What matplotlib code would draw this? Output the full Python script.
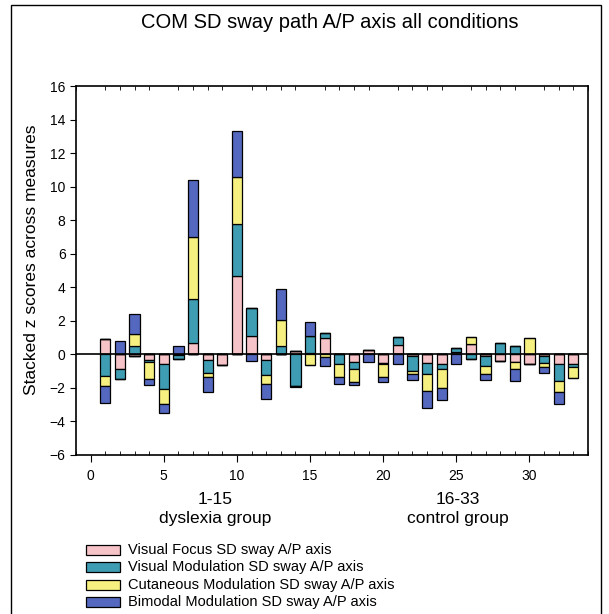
import numpy as np
import matplotlib.pyplot as plt
from matplotlib.patches import Rectangle
from matplotlib.ticker import MultipleLocator

plt.rcParams['font.family'] = ['Liberation Sans', 'DejaVu Sans']

subjects = list(range(1, 34))

# z scores per measure, one value per subject (1-15 dyslexia, 16-33 control)
visual_focus = [0.9, -0.86, -0.1, -0.35, -0.55, -0.05, 0.7, -0.35, -0.64, 4.7,
                1.09, -0.34, 0.0, 0.2, 0.1, 0.95, 0.0, -0.46, 0.25, -0.5,
                0.55, -0.1, -0.5, -0.6, 0.15, 0.6, -0.1, -0.4, -0.46, -0.55,
                -0.1, -0.56, -0.6]
visual_mod = [-1.29, -0.58, 0.48, -0.1, -1.5, -0.25, 2.62, -0.76, 0.0, 3.1,
              1.7, -0.9, 0.52, -1.9, 1.0, 0.3, -0.56, -0.4, 0.0, -0.1,
              0.5, -0.9, -0.7, -0.3, 0.2, -0.3, -0.6, 0.7, 0.48, 0.0,
              -0.4, -1.0, -0.15]
cutaneous_mod = [-0.6, 0.0, 0.72, -1.0, -0.9, 0.0, 3.65, -0.24, 0.0, 2.77,
                 0.0, -0.54, 1.53, 0.0, -0.65, -0.15, -0.8, -0.8, 0.0, -0.75,
                 0.0, -0.15, -1.0, -1.1, 0.0, 0.45, -0.45, 0.0, -0.4, 1.0,
                 -0.25, -0.7, -0.64]
bimodal_mod = [-1.0, 0.78, 1.19, -0.4, -0.56, 0.5, 3.43, -0.9, 0.0, 2.72,
               -0.4, -0.86, 1.85, -0.05, 0.8, -0.55, -0.4, -0.14, -0.45, -0.3,
               -0.6, -0.35, -1.0, -0.7, -0.6, 0.0, -0.4, 0.0, -0.7, 0.0,
               -0.35, -0.7, 0.0]

labels = ["Visual Focus SD sway A/P axis",
          "Visual Modulation SD sway A/P axis",
          "Cutaneous Modulation SD sway A/P axis",
          "Bimodal Modulation SD sway A/P axis"]
colors = ["#f6c4c8", "#3f9db3", "#f6f080", "#5468c0"]

fig = plt.figure(figsize=(6.09, 6.14), dpi=100)
ax = fig.add_axes([76/609, 1-455/614, (588-76)/609, (455-86)/614])

x = np.array(subjects)
pos_base = np.zeros(len(x))
neg_base = np.zeros(len(x))
for vals, c in zip([visual_focus, visual_mod, cutaneous_mod, bimodal_mod], colors):
    v = np.array(vals)
    p = np.where(v > 0, v, 0)
    n = np.where(v < 0, v, 0)
    ax.bar(x, p, 0.7, bottom=pos_base, color=c, edgecolor="black", linewidth=0.9)
    ax.bar(x, n, 0.7, bottom=neg_base, color=c, edgecolor="black", linewidth=0.9)
    pos_base += p
    neg_base += n

ax.axhline(0, color="black", lw=1.2)
ax.set_xlim(-1, 34)
ax.set_ylim(-6, 16)
ax.yaxis.set_major_locator(MultipleLocator(2))
ax.xaxis.set_minor_locator(MultipleLocator(1))
ax.set_xticks(range(0, 31, 5))
ax.tick_params(axis="x", which="major", direction="out", length=5, labelsize=10, pad=5)
ax.tick_params(axis="x", which="minor", direction="in", length=3, top=True)
ax.tick_params(axis="y", direction="out", length=4, labelsize=10)
for s in ax.spines.values():
    s.set_linewidth(1.2)
ax.set_ylabel("Stacked z scores across measures", fontsize=12.5)
ax.yaxis.set_label_coords(-0.072, 0.53)

fig.text(330/609, 1-22/614, "COM SD sway path A/P axis all conditions",
         ha="center", va="center", fontsize=14.5)
fig.text(215/609, 1-509/614, "1-15\ndyslexia group", ha="center", va="center",
         fontsize=12.5, linespacing=1.3)
fig.text(458/609, 1-509/614, "16-33\ncontrol group", ha="center", va="center",
         fontsize=12.5, linespacing=1.3)

# legend drawn by hand
for i, (lab, c) in enumerate(zip(labels, colors)):
    yc = 550 + i*17.3
    fig.patches.append(Rectangle((86/609, 1-(yc+5)/614), 34/609, 10/614,
                                 transform=fig.transFigure, facecolor=c,
                                 edgecolor="black", linewidth=0.9))
    fig.text(128/609, 1-yc/614, lab, ha="left", va="center", fontsize=10.5)

# outer frame
fig.patches.append(Rectangle((11/609, -0.05), 590/609, 1.05-5/614,
                             transform=fig.transFigure, fill=False,
                             edgecolor="black", linewidth=1))

fig.savefig("out.png", dpi=100)
